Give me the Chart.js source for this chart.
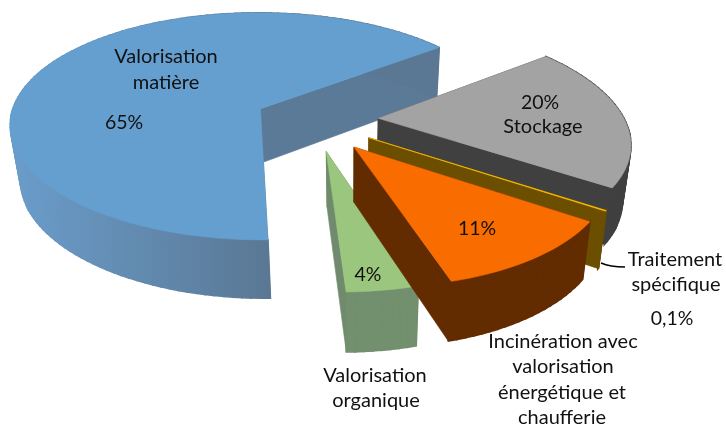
<!DOCTYPE html>
<html><head><meta charset="utf-8">
<style>html,body{margin:0;padding:0;background:#fff}canvas{display:block}</style>
<script src="https://cdn.jsdelivr.net/npm/chart.js@4/dist/chart.umd.min.js"></script>
</head><body><canvas id="c" width="726" height="425"></canvas>
<script>
const categories = ["Valorisation matière","Stockage","Traitement spécifique","Incinération avec valorisation énergétique et chaufferie","Valorisation organique"];
const values = [65,20,0.1,11,4];
const explode = [21,28,28,29,28];
const explodeTilt = [0,0,0,0,-4];
const radiusScale = [1,0.98,0.97,0.96,0.95];
const paintOrder = [0,1,2,4,3];
const topColors = ["#659fcf","#a3a3a3","#ffc000","#f96c00","#9bc67e"];
const wallColors = ["#5b7a97","#404040","#6b4e00","#622c00","#728f6e"];
const startWall = ["#5b7a97","#404040","#6b4e00","#622c00","#5f8a3a"];
const endWall = ["#5b7a97","#404040","#6b4e00","#622c00","#6f8a6c"];
const labelLines = [
 {t:"Valorisation",x:166,y:57,s:20},{t:"matière",x:166,y:83,s:20},{t:"65%",x:124,y:123,s:19.5},
 {t:"20%",x:540,y:103,s:19.5},{t:"Stockage",x:543,y:127,s:20},
 {t:"11%",x:477,y:229,s:19.5},{t:"4%",x:368,y:275,s:19.5},
 {t:"Traitement",x:675,y:260,s:20},{t:"spécifique",x:676,y:285,s:20},{t:"0,1%",x:672,y:319,s:19.5},
 {t:"Incinération avec",x:563,y:342,s:20},{t:"valorisation",x:563,y:367,s:20},{t:"énergétique et",x:562,y:393,s:20},{t:"chaufferie",x:562,y:418,s:20},
 {t:"Valorisation",x:375,y:376,s:20},{t:"organique",x:376,y:401,s:20}
];
const VIEW = {vx:247,oy:119,a:251,b:114,k:0.158,su:0.243,depth:54,dx:350,s:0.03};
function project(u,v,down){
  const den=1-VIEW.k*v;
  let x=VIEW.vx+VIEW.a*(u+VIEW.su)/den, y=VIEW.oy+VIEW.b*v/den;
  if(down){y+=VIEW.depth/Math.pow(den,0.5); x+=(VIEW.dx-x)*VIEW.s;}
  return [x,y];
}
function poly(ctx,pts,fill,lw){
  ctx.beginPath();pts.forEach((p,i)=>i?ctx.lineTo(p[0],p[1]):ctx.moveTo(p[0],p[1]));ctx.closePath();
  ctx.fillStyle=fill;ctx.strokeStyle=fill;ctx.lineWidth=lw||0.6;ctx.fill();ctx.stroke();
}
const pie3d={id:"pie3d",beforeDatasetsDraw(chart){
  const ctx=chart.ctx, arcs=chart.getDatasetMeta(0).data;
  paintOrder.forEach(i=>{
    const arc=arcs[i];
    const a0=arc.startAngle,a1=arc.endAngle,mid=(a0+a1)/2+explodeTilt[i]*Math.PI/180,d=explode[i]/100,r=radiusScale[i];
    const cu=d*Math.cos(mid),cv=d*Math.sin(mid);
    const n=Math.max(3,Math.ceil((a1-a0)*30)),top=[],bot=[];
    for(let j=0;j<=n;j++){const t=a0+(a1-a0)*j/n,u=cu+r*Math.cos(t),v=cv+r*Math.sin(t);
      top.push(project(u,v,false));bot.push(project(u,v,true));}
    const at=project(cu,cv,false),ab=project(cu,cv,true);
    let wall=wallColors[i];
    if(i===0){const g=ctx.createLinearGradient(15,0,268,0);g.addColorStop(0,"#6a9cca");g.addColorStop(1,"#5a7894");wall=g;}
    poly(ctx,[at,top[0],bot[0],ab],startWall[i]);
    poly(ctx,[at,top[n],bot[n],ab],endWall[i]);
    for(let j=0;j<n;j++) poly(ctx,[top[j],top[j+1],bot[j+1],bot[j]],wall,1.6);
    poly(ctx,[at].concat(top),topColors[i]);
  });
  return false;
},afterDraw(chart){
  const ctx=chart.ctx;
  ctx.strokeStyle="#000";ctx.lineWidth=1.4;ctx.beginPath();ctx.moveTo(601,263);ctx.quadraticCurveTo(610,267,625,267);ctx.stroke();
  ctx.fillStyle="#111";ctx.textAlign="center";ctx.textBaseline="middle";
  labelLines.forEach(l=>{ctx.font=l.s+'px Lato';ctx.fillText(l.t,l.x,l.y);});
}};
new Chart(document.getElementById("c"),{type:"pie",plugins:[pie3d],
 data:{labels:categories,datasets:[{data:values,backgroundColor:topColors,offset:explode,borderWidth:0}]},
 options:{responsive:false,animation:false,rotation:179,plugins:{legend:{display:false},tooltip:{enabled:false}}}});
</script></body></html>
